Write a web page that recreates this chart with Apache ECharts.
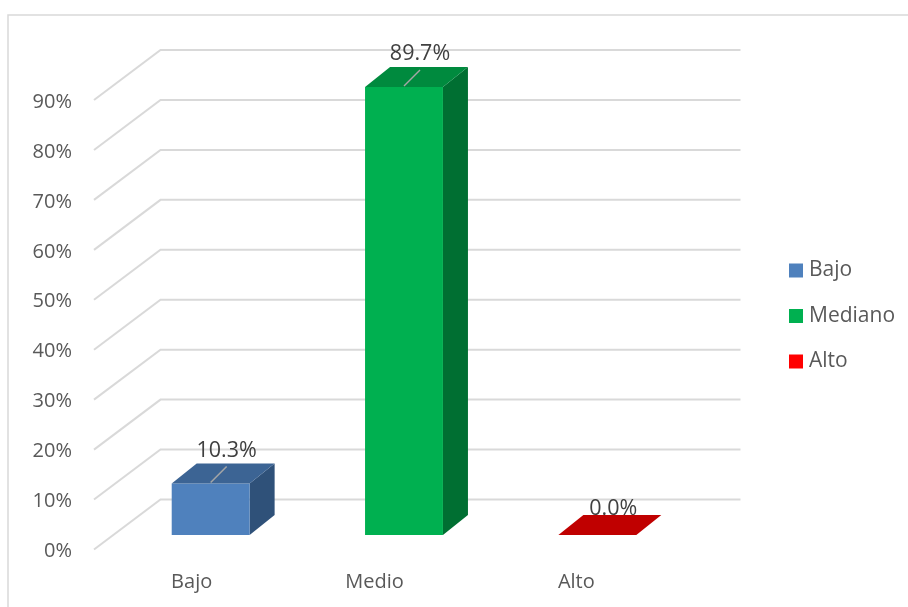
<!DOCTYPE html>
<html>
<head>
<meta charset="utf-8">
<style>html,body{margin:0;padding:0;background:#fff}#c{width:908px;height:607px}</style>
<script src="https://cdn.jsdelivr.net/npm/echarts@6/dist/echarts.min.js"></script>
</head>
<body>
<div id="c"></div>
<script>
const categories = ['Bajo', 'Medio', 'Alto'];
const legendNames = ['Bajo', 'Mediano', 'Alto'];
const bajoValue = 10.3;
const medianoValue = 89.7;
const altoValue = 0.0;
const yTicks = [0, 10, 20, 30, 40, 50, 60, 70, 80, 90];

const FONT = '"Open Sans", "Noto Sans", sans-serif';
const WALL = { dx: 66.5, dy: -50 };
const BAR_SHIFT = { dx: 20, dy: -14.5 };
const BAR_DEPTH = { dx: 25, dy: -20 };

function wallItem(params, api) {
  const v = api.value(0);
  const p = api.coord([0, v]);
  const band = api.size([1, 0])[0];
  const x0 = p[0] - band / 2;
  const x1 = x0 + band * 3;
  return {
    type: 'polyline',
    shape: { points: [[x0, p[1]], [x0 + WALL.dx, p[1] + WALL.dy], [x1 + WALL.dx, p[1] + WALL.dy]] },
    style: { stroke: '#d9d9d9', lineWidth: 2, fill: null }
  };
}

function barRenderer(front, top, side) {
  return function (params, api) {
    const idx = api.value(0), v = api.value(1);
    const b = api.coord([idx, 0]), t = api.coord([idx, v]);
    const w = api.size([1, 0])[0] * 0.403;
    const xl = b[0] + BAR_SHIFT.dx - w / 2, xr = xl + w;
    const yb = b[1] + BAR_SHIFT.dy, yt = t[1] + BAR_SHIFT.dy;
    const d = BAR_DEPTH;
    const cx = (xl + xr) / 2;
    const children = [];
    if (v > 0) {
      children.push({ type: 'polygon', shape: { points: [[xr, yb], [xr + d.dx, yb + d.dy], [xr + d.dx, yt + d.dy], [xr, yt]] }, style: { fill: side } });
      children.push({ type: 'rect', shape: { x: xl, y: yt, width: w, height: yb - yt }, style: { fill: front } });
    }
    children.push({ type: 'polygon', shape: { points: [[xl, yt], [xr, yt], [xr + d.dx, yt + d.dy], [xl + d.dx, yt + d.dy]] }, style: { fill: top } });
    if (v > 0) {
      children.push({ type: 'line', shape: { x1: cx, y1: yt - 1, x2: cx + 16, y2: yt - 17 }, style: { stroke: '#a6a6a6', lineWidth: 1.5 } });
    }
    children.push({
      type: 'text',
      style: {
        text: v.toFixed(1) + '%', x: cx + 16, y: yt + (v > 0 ? -33 : -26),
        align: 'center', verticalAlign: 'middle', fill: '#404040', font: '21.5px ' + FONT
      }
    });
    return { type: 'group', children };
  };
}

function barSeries(name, catIdx, value, front, top, side) {
  return {
    type: 'custom', name, coordinateSystem: 'cartesian2d', clip: false, silent: true, z: 3,
    itemStyle: { color: name === 'Alto' ? '#ff0000' : front },
    encode: { x: 0, y: 1 },
    data: [[catIdx, value]],
    renderItem: barRenderer(front, top, side)
  };
}

const labelRich = (padding) => ({ color: '#595959', fontSize: 20, fontFamily: FONT, padding });

const chart = echarts.init(document.getElementById('c'), null, { renderer: 'canvas' });
chart.setOption({
  animation: false,
  backgroundColor: '#ffffff',
  textStyle: { fontFamily: FONT },
  graphic: [{
    type: 'rect', silent: true, z: -1,
    shape: { x: 8, y: 15, width: 1000, height: 800 },
    style: { fill: null, stroke: '#d9d9d9', lineWidth: 1.5 }
  }],
  grid: { left: 94, top: 100, width: 580, height: 449.5, containLabel: false },
  xAxis: {
    type: 'category', data: categories,
    axisLine: { show: false }, axisTick: { show: false }, splitLine: { show: false },
    axisLabel: {
      margin: 23, color: '#595959', fontSize: 20, fontFamily: FONT,
      formatter: v => '{' + v + '|' + v + '}',
      rich: {
        Bajo: labelRich([0, 0, 0, 2]),
        Medio: labelRich([0, 19, 0, 0]),
        Alto: labelRich([0, 2, 0, 0])
      }
    }
  },
  yAxis: {
    type: 'value', min: 0, max: 90, interval: 10,
    axisLine: { show: false }, axisTick: { show: false }, splitLine: { show: false },
    axisLabel: {
      margin: 22, color: '#595959', fontSize: 20, fontFamily: FONT,
      formatter: v => '{t|' + v + '%}',
      rich: { t: labelRich([4, 0, 0, 0]) }
    }
  },
  legend: {
    data: legendNames.map(n => ({ name: n, icon: 'rect' })),
    orient: 'vertical', left: 784, top: 255,
    itemWidth: 14, itemHeight: 14, itemGap: 24.5,
    selectedMode: false,
    textStyle: { color: '#595959', fontSize: 21, fontFamily: FONT, padding: [0, 0, 0, 1] }
  },
  series: [
    {
      type: 'custom', name: 'wall', coordinateSystem: 'cartesian2d', clip: false, silent: true, z: 1,
      encode: { y: 0 },
      data: yTicks.map(v => [v]),
      renderItem: wallItem
    },
    barSeries(legendNames[0], 0, bajoValue, '#4f81bd', '#3c6494', '#2f5179'),
    barSeries(legendNames[1], 1, medianoValue, '#00b050', '#008a3e', '#006f32'),
    barSeries(legendNames[2], 2, altoValue, '#c00000', '#c00000', '#900000')
  ]
});
</script>
</body>
</html>
